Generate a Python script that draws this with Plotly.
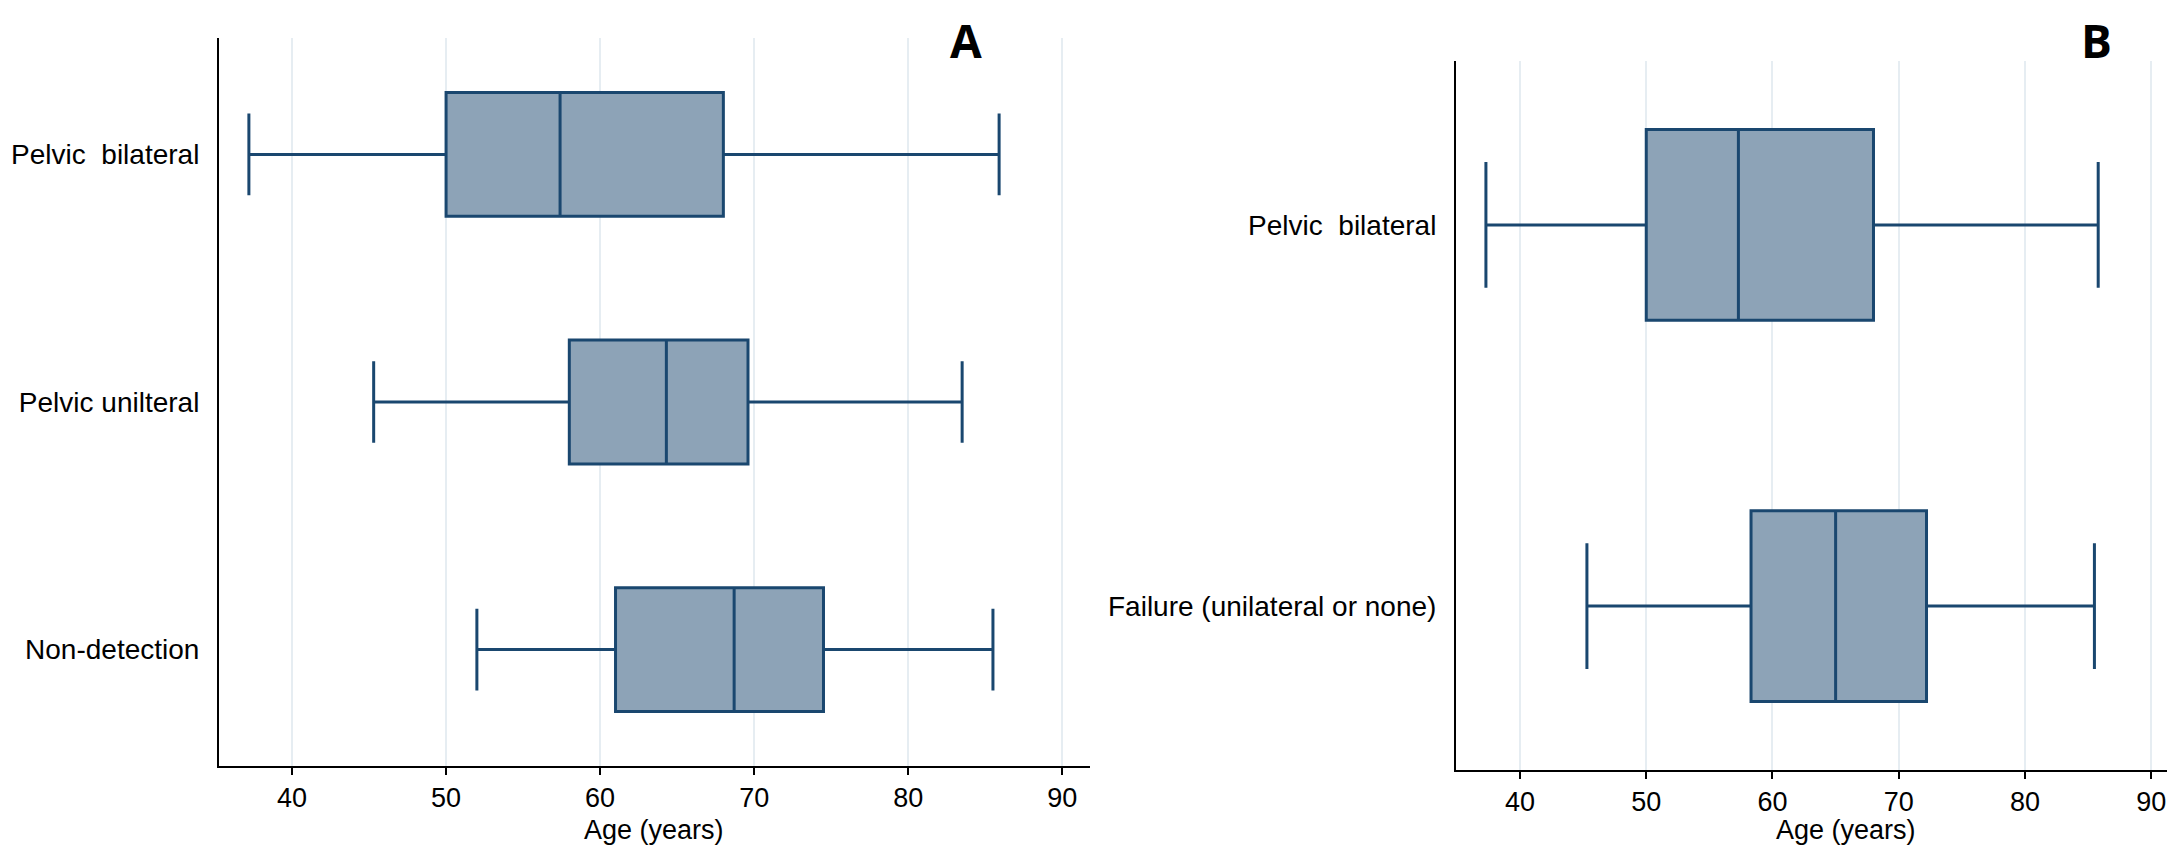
import plotly.graph_objects as go

# ---- data ----
cats_a = ["Pelvic\u00a0 bilateral", "Pelvic unilteral", "Non-detection"]
low_a = [37.2, 45.3, 52.0]
q1_a = [50.0, 58.0, 61.0]
med_a = [57.4, 64.3, 68.7]
q3_a = [68.0, 69.6, 74.5]
high_a = [85.9, 83.5, 85.5]

cats_b = ["Pelvic\u00a0 bilateral", "Failure (unilateral or none)"]
low_b = [37.3, 45.3]
q1_b = [50.0, 58.3]
med_b = [57.3, 65.0]
q3_b = [68.0, 72.2]
high_b = [85.8, 85.5]

x_ticks = [40, 50, 60, 70, 80, 90]
x_title = "Age (years)"
panel_labels = ["A", "B"]

LINE = "#1a476f"
FILL = "#8da3b7"
GRID = "#e6edf2"
FONT = "Liberation Sans, Arial, sans-serif"

fig = go.Figure()

def add_boxes(cats, lo, q1, med, q3, hi, xa, ya):
    for i, c in enumerate(cats):
        fig.add_trace(go.Box(
            y=[c], q1=[q1[i]], median=[med[i]], q3=[q3[i]],
            lowerfence=[lo[i]], upperfence=[hi[i]],
            orientation="h", width=0.5, whiskerwidth=0.66,
            fillcolor=FILL, line=dict(color=LINE, width=3),
            boxpoints=False, showlegend=False, hoverinfo="skip",
            xaxis=xa, yaxis=ya))

add_boxes(cats_a, low_a, q1_a, med_a, q3_a, high_a, "x", "y")
add_boxes(cats_b, low_b, q1_b, med_b, q3_b, high_b, "x2", "y2")

W, H = 2175, 849
dom_a = [211 / W, 1082 / W]
dom_b = [1448 / W, 2171 / W]

def xaxis(domain, rng, anchor):
    return dict(domain=domain, range=rng, anchor=anchor,
                tickvals=x_ticks, ticks="outside", ticklen=7, tickwidth=2,
                tickcolor="black", showline=True, linecolor="black", linewidth=2,
                showgrid=True, gridcolor=GRID, gridwidth=2, zeroline=False,
                tickfont=dict(family=FONT, size=27, color="black"))

def yaxis(domain, rng, anchor):
    return dict(domain=domain, range=rng, anchor=anchor, type="category",
                showline=True, linecolor="black", linewidth=2, ticks="",
                showgrid=False, zeroline=False, ticklabelstandoff=12,
                tickfont=dict(family=FONT, size=28, color="black"))

def label(text, x, y, size, family, bold=False, yanchor="middle"):
    return dict(text=("<b>%s</b>" % text) if bold else text, x=x, y=y,
                xref="paper", yref="paper", showarrow=False,
                xanchor="center", yanchor=yanchor, borderpad=0,
                font=dict(family=family, size=size, color="black"))

fig.update_layout(
    width=W, height=H,
    margin=dict(l=0, r=0, t=0, b=0),
    paper_bgcolor="white", plot_bgcolor="white",
    xaxis=xaxis(dom_a, [35.26, 91.8], "y"),
    yaxis=yaxis([1 - 758 / H, 1 - 30 / H], [2.47, -0.47], "x"),
    xaxis2=xaxis(dom_b, [34.93, 92.2], "y2"),
    yaxis2=yaxis([1 - 762 / H, 1 - 53 / H], [1.43, -0.43], "x2"),
    annotations=[
        label(panel_labels[0], 958 / W, 1.0, 46, "Open Sans, sans-serif", True, "top"),
        label(panel_labels[1], 2088 / W, 1.0, 46, "Open Sans, sans-serif", True, "top"),
        label(x_title, 646 / W, 1 - 822 / H, 27, FONT),
        label(x_title, 1838 / W, 1 - 822 / H, 27, FONT),
    ],
)

fig.write_html("out.html")
